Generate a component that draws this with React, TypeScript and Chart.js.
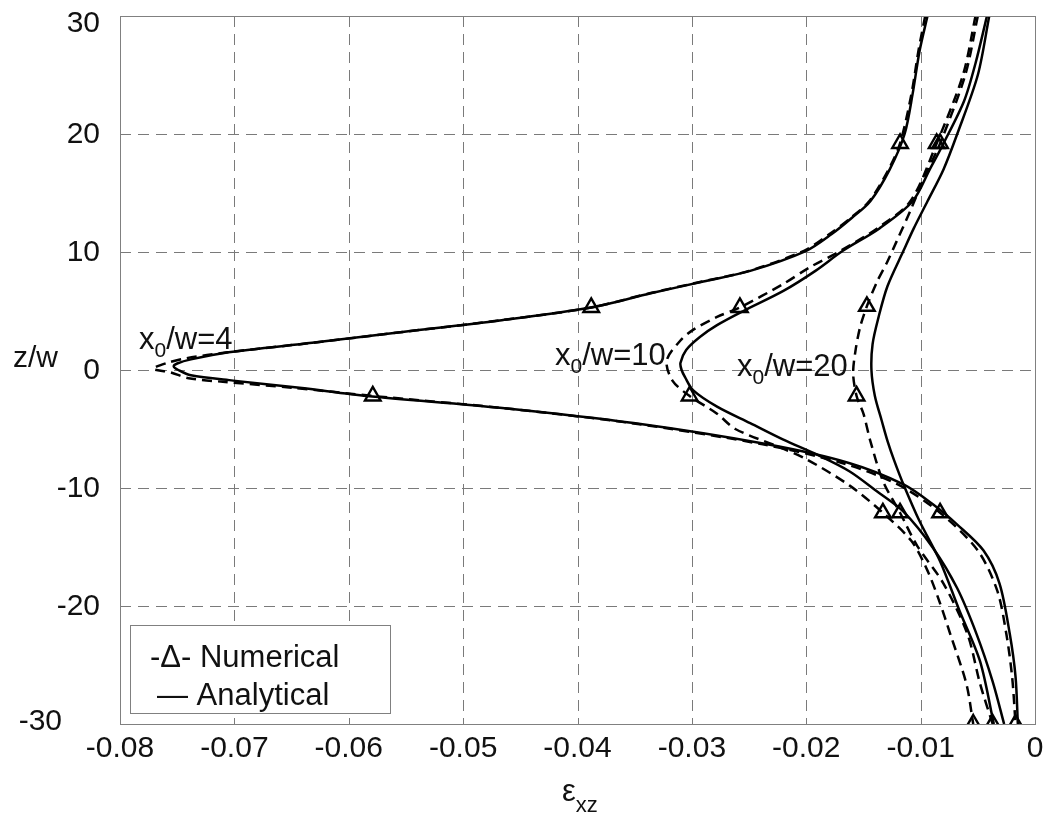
import { useEffect, useRef } from 'react';
import { Chart, registerables } from 'chart.js';

Chart.register(...registerables);

// Axis ticks
const X_TICKS = [-0.08, -0.07, -0.06, -0.05, -0.04, -0.03, -0.02, -0.01, 0];
const X_TICK_LABELS = ['-0.08', '-0.07', '-0.06', '-0.05', '-0.04', '-0.03', '-0.02', '-0.01', '0'];
const Y_TICKS = [30, 20, 10, 0, -10, -20, -30];
const Y_TICK_LABELS = ['30', '20', '10', '0', '-10', '-20', '-30'];

// x0/w = 4 — analytical
const zA4 = [30, 27, 23.4, 20, 17, 14.3, 12.9, 11.5, 10.1, 8.4, 7.5, 6.5, 5.3, 4.2, 3.2, 2.3, 1.5, 0.9, 0.55, 0.3, 0, -0.45, -0.9, -1.5, -2.2, -3.2, -4.5, -6.3, -7.9, -9.7, -11.4, -13.1, -15.3, -18.1, -22.4, -26, -30];
const eA4 = [-0.0094, -0.0101, -0.0107, -0.0114, -0.0127, -0.0144, -0.016, -0.0178, -0.02, -0.0249, -0.029, -0.0336, -0.0388, -0.0468, -0.0555, -0.0632, -0.0705, -0.0738, -0.075, -0.0753, -0.0749, -0.0738, -0.0701, -0.0643, -0.0584, -0.0468, -0.0351, -0.0234, -0.0162, -0.0115, -0.0089, -0.0068, -0.0045, -0.0031, -0.0022, -0.0017, -0.0015];
// x0/w = 4 — numerical
const zN4 = [30, 27, 23.4, 19.2, 17, 14.3, 12.9, 11.5, 10.1, 8.4, 7.5, 6.5, 5.3, 4.2, 3.2, 2.3, 1.5, 1.0, 0.6, 0.1, -0.2, -0.7, -1.0, -1.5, -2.2, -3.2, -4.5, -6.3, -7.9, -9.7, -12.1, -15.3, -18.7, -22.4, -26, -30];
const eN4 = [-0.0096, -0.0102, -0.0108, -0.0118, -0.0128, -0.0145, -0.0161, -0.018, -0.0202, -0.025, -0.0291, -0.0337, -0.0388, -0.0468, -0.0555, -0.0632, -0.0706, -0.0742, -0.0759, -0.0771, -0.0756, -0.074, -0.071, -0.065, -0.0579, -0.0468, -0.0353, -0.0238, -0.0168, -0.012, -0.0083, -0.005, -0.0033, -0.0025, -0.002, -0.0017];
const zT4 = [19.2, 5.3, -2.2, -12.1, -30];
const eT4 = [-0.0118, -0.0388, -0.0579, -0.0083, -0.0017];

// x0/w = 10 — analytical
const zA10 = [30, 26, 22.8, 19.2, 17, 14.3, 12, 10.1, 8.4, 6.7, 5.0, 3.8, 2.8, 1.7, 0.6, 0, -0.6, -1.7, -3.1, -4.5, -5.9, -7.2, -8.6, -10.3, -12, -15.1, -18.5, -22.4, -26.4, -30];
const eA10 = [-0.0042, -0.0052, -0.0062, -0.008, -0.0092, -0.0107, -0.0136, -0.0168, -0.0192, -0.022, -0.0255, -0.0278, -0.0293, -0.0305, -0.031, -0.0309, -0.0306, -0.0299, -0.0278, -0.0249, -0.022, -0.019, -0.0162, -0.0138, -0.0115, -0.0089, -0.0068, -0.0051, -0.0037, -0.0027];
// x0/w = 10 — numerical
const zN10 = [30, 25, 19.2, 14.3, 12, 10.1, 8.7, 7.3, 5.3, 4.5, 3.4, 2.5, 0.8, -0.9, -2.2, -3.7, -5.0, -6.4, -7.5, -9.8, -12.1, -14.5, -17, -19.5, -22.4, -26.6, -30];
const eN10 = [-0.0052, -0.0063, -0.0086, -0.0109, -0.0138, -0.017, -0.0197, -0.022, -0.0258, -0.0278, -0.0299, -0.031, -0.0322, -0.0317, -0.0302, -0.0278, -0.0262, -0.0227, -0.0201, -0.0162, -0.0133, -0.0108, -0.0094, -0.0084, -0.0074, -0.006, -0.0054];
const zT10 = [19.2, 5.3, -2.2, -12.1, -30];
const eT10 = [-0.0086, -0.0258, -0.0302, -0.0133, -0.0054];

// x0/w = 20 — analytical
const zA20 = [30, 25, 20, 17, 14.3, 12, 10.1, 7.1, 4.4, 2.2, 0, -2.2, -4.3, -6, -7.7, -9.7, -12.8, -16.2, -20.4, -24.7, -30];
const eA20 = [-0.004, -0.005, -0.0068, -0.008, -0.0094, -0.0106, -0.0115, -0.0129, -0.0137, -0.0142, -0.0143, -0.014, -0.0134, -0.0129, -0.0123, -0.0115, -0.0101, -0.0083, -0.0066, -0.0048, -0.0036];
// x0/w = 20 — numerical
const zN20 = [30, 25, 19.2, 16.5, 13.5, 10.9, 9.2, 7.5, 5.4, 3.6, 1.6, -0.3, -2.2, -3.7, -6, -9.4, -12.1, -14.9, -18.1, -22.4, -26.6, -30];
const eN20 = [-0.005, -0.0061, -0.0083, -0.0096, -0.0109, -0.0121, -0.0129, -0.0138, -0.0147, -0.0153, -0.0157, -0.0159, -0.0156, -0.015, -0.0144, -0.0133, -0.0118, -0.0103, -0.008, -0.0059, -0.0048, -0.0037];
const zT20 = [19.2, 5.4, -2.2, -12.1, -30];
const eT20 = [-0.0083, -0.0147, -0.0156, -0.0118, -0.0037];

const FONT = '"Liberation Sans", Arial, Helvetica, sans-serif';

const pts = (e: number[], z: number[]) => e.map((x, i) => ({ x, y: z[i] }));

const solid = (e: number[], z: number[]) => ({
  data: pts(e, z),
  showLine: true,
  borderColor: '#000',
  borderWidth: 2.5,
  pointRadius: 0,
  tension: 0.3,
  fill: false,
});
const dashed = (e: number[], z: number[]) => ({
  data: pts(e, z),
  showLine: true,
  borderColor: '#000',
  borderWidth: 2.5,
  borderDash: [10, 6],
  pointRadius: 0,
  tension: 0.3,
  fill: false,
});
const markers = (e: number[], z: number[]) => ({
  data: pts(e, z),
  showLine: false,
  pointStyle: 'triangle',
  pointRadius: 9,
  pointBorderWidth: 2.4,
  pointBorderColor: '#000',
  pointBackgroundColor: 'rgba(0,0,0,0)',
});

function put(ctx: CanvasRenderingContext2D, s: string, x: number, y: number, size: number, align: CanvasTextAlign = 'left', baseline: CanvasTextBaseline = 'alphabetic') {
  ctx.font = `${size}px ${FONT}`;
  ctx.textAlign = align;
  ctx.textBaseline = baseline;
  ctx.fillText(s, x, y);
  return ctx.measureText(s).width;
}

// "x0/w=N" with a subscripted 0
function subLabel(ctx: CanvasRenderingContext2D, x: number, y: number, rest: string) {
  let cx = x;
  cx += put(ctx, 'x', cx, y, 31);
  cx += put(ctx, '0', cx, y + 8, 21);
  put(ctx, rest, cx, y, 31);
}

const decorPlugin = {
  id: 'decor',
  beforeDatasetsDraw(chart: any) {
    const { ctx, chartArea: a, scales } = chart;
    ctx.save();
    ctx.strokeStyle = '#7a7a7a';
    ctx.lineWidth = 1;
    ctx.setLineDash([11, 7]);
    X_TICKS.slice(1, -1).forEach((v) => {
      const px = Math.round(scales.x.getPixelForValue(v)) + 0.5;
      ctx.beginPath();
      ctx.moveTo(px, a.top);
      ctx.lineTo(px, a.bottom);
      ctx.stroke();
    });
    Y_TICKS.slice(1, -1).forEach((v) => {
      const py = Math.round(scales.y.getPixelForValue(v)) + 0.5;
      ctx.beginPath();
      ctx.moveTo(a.left, py);
      ctx.lineTo(a.right, py);
      ctx.stroke();
    });
    ctx.restore();
  },
  afterDatasetsDraw(chart: any) {
    const { ctx, chartArea: a, scales } = chart;
    ctx.save();
    // frame
    ctx.strokeStyle = '#808080';
    ctx.lineWidth = 1;
    ctx.setLineDash([]);
    ctx.strokeRect(a.left + 0.5, a.top + 0.5, a.right - a.left, a.bottom - a.top);

    ctx.fillStyle = '#111';
    // x tick labels
    X_TICKS.forEach((v, i) => {
      put(ctx, X_TICK_LABELS[i], scales.x.getPixelForValue(v), a.bottom + 25, 30, 'center', 'middle');
    });
    // y tick labels
    Y_TICKS.forEach((v, i) => {
      const py = scales.y.getPixelForValue(v);
      if (v === 30) put(ctx, Y_TICK_LABELS[i], a.left - 20, py + 8, 30, 'right', 'middle');
      else if (v === -30) put(ctx, Y_TICK_LABELS[i], a.left - 58, py - 2, 30, 'right', 'middle');
      else put(ctx, Y_TICK_LABELS[i], a.left - 20, py + 1, 30, 'right', 'middle');
    });
    // axis titles
    put(ctx, 'z/w', 13, 367, 30);
    let ex = 562;
    ex += put(ctx, 'ε', ex, 801, 31);
    put(ctx, 'xz', ex, 812, 22);

    // curve labels
    subLabel(ctx, 139, 349, '/w=4');
    subLabel(ctx, 555, 365, '/w=10');
    subLabel(ctx, 737, 376, '/w=20');

    // legend
    ctx.fillStyle = '#fff';
    ctx.fillRect(130, 625, 260, 88);
    ctx.strokeStyle = '#808080';
    ctx.lineWidth = 1;
    ctx.strokeRect(130.5, 625.5, 260, 88);
    ctx.fillStyle = '#111';
    put(ctx, '-Δ- Numerical', 150, 658, 31, 'left', 'middle');
    put(ctx, '— Analytical', 157, 696, 31, 'left', 'middle');
    ctx.restore();
  },
};

export default function App() {
  const ref = useRef<HTMLCanvasElement | null>(null);

  useEffect(() => {
    if (!ref.current) return;
    const chart = new Chart(ref.current, {
      type: 'scatter',
      data: {
        datasets: [
          solid(eA4, zA4),
          dashed(eN4, zN4),
          markers(eT4, zT4),
          solid(eA10, zA10),
          dashed(eN10, zN10),
          markers(eT10, zT10),
          solid(eA20, zA20),
          dashed(eN20, zN20),
          markers(eT20, zT20),
        ] as any,
      },
      options: {
        animation: false,
        responsive: false,
        maintainAspectRatio: false,
        layout: { padding: { left: 120, right: 14, top: 16, bottom: 89 } },
        plugins: { legend: { display: false }, tooltip: { enabled: false } },
        scales: {
          x: { type: 'linear', min: -0.08, max: 0, display: false },
          y: { type: 'linear', min: -30, max: 30, display: false },
        },
      },
      plugins: [decorPlugin],
    });
    return () => chart.destroy();
  }, []);

  return (
    <div style={{ position: 'fixed', left: 0, top: 0, width: 1049, height: 813, background: '#fff' }}>
      <canvas ref={ref} width={1049} height={813} style={{ display: 'block', width: 1049, height: 813 }} />
    </div>
  );
}
